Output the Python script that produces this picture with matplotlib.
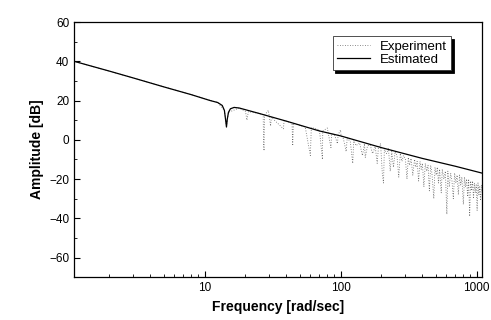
import matplotlib
matplotlib.use("Agg")
import matplotlib.pyplot as plt
from matplotlib.ticker import FixedLocator, FuncFormatter, MultipleLocator, LogLocator

# Estimated model response (frequency in rad/sec, amplitude in dB)
est_freq = [1.1, 2, 3, 5, 8, 11, 12.5, 13.5, 14.0, 14.3, 14.5, 14.7, 15.0, 15.5,
            16.5, 18, 25, 40, 70, 100, 200, 400, 700, 1100]
est_amp = [40.0, 35.0, 31.5, 27.0, 23.0, 20.0, 19.0, 17.5, 15.0, 10.0, 6.5, 10.5,
           14.0, 15.8, 16.5, 16.2, 13.5, 9.5, 4.5, 2.0, -4.0, -9.5, -13.5, -17.0]

# Measured response (dotted)
exp_freq = [1.1, 3, 8, 12.5, 14, 14.5, 15, 18, 20, 20.5, 21, 25, 27, 27.2, 27.4,
            27.6, 29.5, 30.6, 31, 38, 38.5, 44, 44.5, 45, 55, 60, 61, 70, 73.6, 74,
            80, 85, 86, 90, 95, 96, 100, 101,
            105, 110, 112, 118, 123, 125, 130, 138, 145, 150, 152, 158, 165, 172,
            180, 186, 190, 197, 203, 207, 210, 218, 225, 232, 238, 245, 252, 260,
            268, 275, 283, 290, 300, 308, 315, 322, 330, 340, 350, 358, 366, 375,
            384, 392, 400, 410, 420, 430, 440, 450, 460, 470, 485, 495, 505, 515,
            525, 535, 550, 560, 575, 590, 605, 615, 630, 645, 660, 675, 690, 705,
            720, 735, 750, 765, 780, 800, 815, 830, 845, 860, 875, 890, 905, 920,
            935, 950, 965, 980, 995, 1010, 1025, 1040, 1055, 1070, 1085, 1100]
exp_amp = [40, 31.5, 23, 19, 15, 7, 14, 16.2, 14.5, 10, 14.3, 13.5, 12.8, -3, -5.6,
           12.5, 15, 7, 11.5, 5.6, 9.8, 8.5, -3, 8.4, 6.5, -8, 6.3, 5, -10, 4.5,
           6, -4, 3, 2.8, -2, 2.5, 5, 2,
           0.5, -6, 1, -1, -12, 0, -3, -1.5, -8, -2, -9, -3, -2.5, -7,
           -3.5, -12, -4, -2, -17.5, -22, -5, -7, -4.5, -16, -6, -14, -6, -8,
           -19, -7, -11, -8, -10, -20, -9, -13, -9.5, -18, -10, -14, -11, -21,
           -11, -15, -12, -24, -12, -16, -13, -26, -13, -17, -30, -14, -18, -14,
           -22, -15, -27, -15, -20, -16, -38, -16, -24, -17, -21, -30, -17, -22,
           -18, -28, -18, -23, -19, -33, -19, -24, -20, -29, -20, -39, -21, -26,
           -21, -30, -22, -27, -23, -36, -22, -28, -24, -31, -23, -27]

plt.rcParams["font.family"] = ["Liberation Sans", "DejaVu Sans"]

fig = plt.figure(figsize=(4.91, 3.2), dpi=100)
ax = fig.add_axes([0.151, 0.134, 0.831, 0.797])

ax.plot(exp_freq, exp_amp, linestyle=(0, (1, 2)), color="#666666", linewidth=0.6,
        label="Experiment")
ax.plot(est_freq, est_amp, color="black", linewidth=0.9, label="Estimated")

ax.set_xscale("log")
ax.set_xlim(1.1, 1100)
ax.set_ylim(-70, 60)

ax.xaxis.set_major_locator(FixedLocator([10, 100, 1000]))
ax.xaxis.set_major_formatter(FuncFormatter(lambda v, p: f"{v:g}"))
ax.xaxis.set_minor_locator(LogLocator(base=10, subs=range(2, 10)))
ax.yaxis.set_major_locator(MultipleLocator(20))
ax.yaxis.set_minor_locator(MultipleLocator(10))
ax.tick_params(which="both", direction="in", top=False, right=False, labelsize=8.5)
ax.tick_params(which="major", length=4)
ax.tick_params(which="minor", length=2)
for s in ax.spines.values():
    s.set_linewidth(0.9)

ax.set_xlabel("Frequency [rad/sec]", fontsize=10, fontweight="bold")
ax.set_ylabel("Amplitude [dB]", fontsize=10, fontweight="bold")

leg = ax.legend(loc="upper right", bbox_to_anchor=(0.94, 0.97), fontsize=9.5,
                fancybox=False, edgecolor="#333333", framealpha=1,
                shadow={"color": "black", "alpha": 1}, borderpad=0.3,
                handlelength=2.5, labelspacing=0.1)
leg.get_frame().set_linewidth(0.6)

fig.savefig("out.png", dpi=100)
